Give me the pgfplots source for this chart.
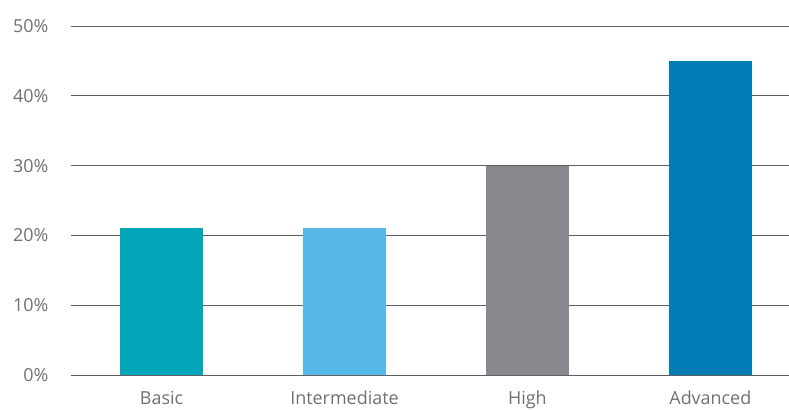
\documentclass[border=0pt]{standalone}
\usepackage{pgfplots}
\pgfplotsset{compat=1.18}
\usepackage{fontspec}
\setmainfont{Open Sans}

\definecolor{cBasic}{RGB}{0,166,184}
\definecolor{cInter}{RGB}{85,184,232}
\definecolor{cHigh}{RGB}{135,137,142}
\definecolor{cAdv}{RGB}{0,124,182}
\definecolor{gridgray}{RGB}{95,95,95}
\definecolor{labelgray}{RGB}{112,112,112}

\begin{document}
\begin{tikzpicture}
\useasboundingbox (-71bp,-35bp) rectangle (718bp,375bp);
\begin{axis}[
  at={(0,0)}, anchor=south west,
  scale only axis,
  width=718bp, height=349bp,
  xmin=-0.495, xmax=3.43,
  ymin=0, ymax=50,
  ytick={0,10,20,30,40,50},
  xtick={0,1,2,3},
  xticklabels={Basic,Intermediate,High,Advanced},
  axis line style={draw=none},
  tick style={draw=none},
  ymajorgrids,
  grid style={gridgray, line width=1bp},
  ybar, bar width=83bp, bar shift=0pt,
  /pgf/number format/assume math mode=true,
  yticklabel={\pgfmathprintnumber{\tick}\%},
  yticklabel style={font=\fontsize{18}{21}\selectfont, text=labelgray, anchor=east, xshift=-19bp},
  xticklabel style={font=\fontsize{18}{21}\selectfont, text=labelgray, anchor=base, yshift=-25bp},
]
\addplot[fill=cBasic, draw=none] coordinates {(0,21)};
\addplot[fill=cInter, draw=none] coordinates {(1,21)};
\addplot[fill=cHigh, draw=none] coordinates {(2,30)};
\addplot[fill=cAdv, draw=none] coordinates {(3,45)};
\end{axis}
\end{tikzpicture}
\end{document}
